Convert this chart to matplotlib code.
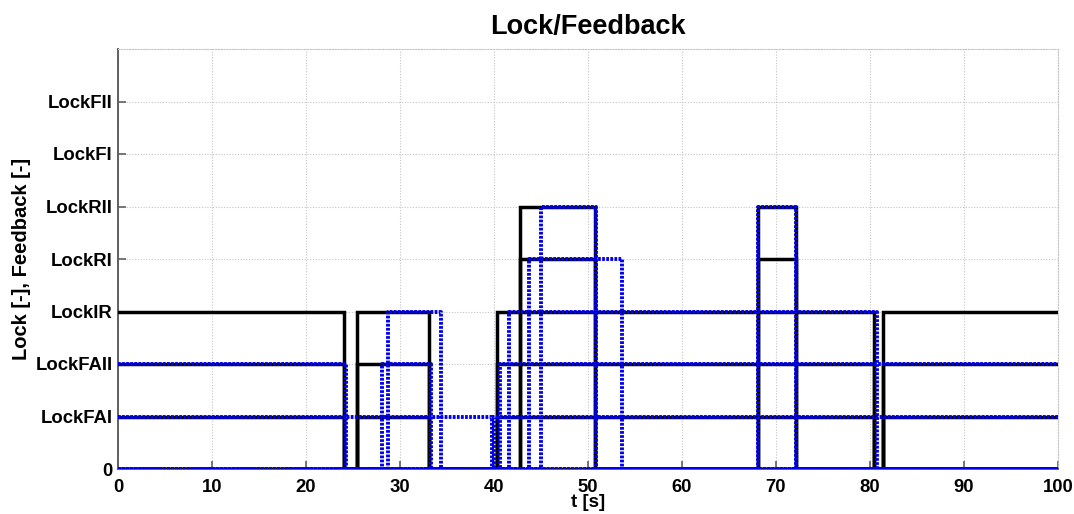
import matplotlib
matplotlib.use("Agg")
import matplotlib.pyplot as plt

plt.rcParams['font.family'] = ['Liberation Sans', 'DejaVu Sans']
plt.rcParams['font.weight'] = 'bold'

# ---- data -------------------------------------------------------------
level_labels = ['0', 'LockFAI', 'LockFAII', 'LockIR', 'LockRI', 'LockRII', 'LockFI', 'LockFII']
x_ticks = [0, 10, 20, 30, 40, 50, 60, 70, 80, 90, 100]

# Lock commands (black, solid) - step times and values (steps-post)
lock_FAI_t = [0, 24.0, 25.4, 33.1, 40.3, 80.4, 81.4, 100]
lock_FAI_v = [1, 0, 1, 0, 1, 0, 1, 1]
lock_FAII_t = [0, 24.0, 25.4, 33.1, 40.3, 80.4, 81.4, 100]
lock_FAII_v = [2, 0, 2, 0, 2, 0, 2, 2]
lock_IR_t = [0, 24.0, 25.4, 33.1, 40.3, 80.4, 81.4, 100]
lock_IR_v = [3, 0, 3, 0, 3, 0, 3, 3]
lock_RI_t = [0, 42.8, 50.7, 68.05, 72.1, 100]
lock_RI_v = [0, 4, 0, 4, 0, 0]
lock_RII_t = [0, 42.8, 50.7, 68.05, 72.1, 100]
lock_RII_v = [0, 5, 0, 5, 0, 0]
lock_FI_t = [0, 100]
lock_FI_v = [0, 0]
lock_FII_t = [0, 100]
lock_FII_v = [0, 0]

# Feedback signals (blue, dotted)
fb_FAI_t = [0, 39.75, 40.05, 100]
fb_FAI_v = [1, 0, 1, 1]
fb_FAII_t = [0, 24.3, 28.05, 33.35, 40.6, 100]
fb_FAII_v = [2, 0, 2, 0, 2, 2]
fb_IR_t = [0, 28.75, 34.4, 41.6, 80.7, 100]
fb_IR_v = [0, 3, 0, 3, 0, 0]
fb_RI_t = [0, 43.7, 53.6, 100]
fb_RI_v = [0, 4, 0, 0]
fb_RII_t = [0, 45.05, 50.9, 68.05, 72.1, 100]
fb_RII_v = [0, 5, 0, 5, 0, 0]
fb_FI_t = [0, 100]
fb_FI_v = [0, 0]
fb_FII_t = [0, 100]
fb_FII_v = [0, 0]

locks = [(lock_FAI_t, lock_FAI_v), (lock_FAII_t, lock_FAII_v), (lock_IR_t, lock_IR_v),
         (lock_RI_t, lock_RI_v), (lock_RII_t, lock_RII_v), (lock_FI_t, lock_FI_v),
         (lock_FII_t, lock_FII_v)]
feedbacks = [(fb_FAI_t, fb_FAI_v), (fb_FAII_t, fb_FAII_v), (fb_IR_t, fb_IR_v),
             (fb_RI_t, fb_RI_v), (fb_RII_t, fb_RII_v), (fb_FI_t, fb_FI_v),
             (fb_FII_t, fb_FII_v)]

# ---- figure -----------------------------------------------------------
fig = plt.figure(figsize=(10.74, 5.14), dpi=100)
ax = fig.add_axes([118 / 1074, 1 - 469 / 514, 940 / 1074, 420 / 514])

for t, v in locks:
    ax.plot(t, v, drawstyle='steps-post', color='black', lw=2.5,
            solid_joinstyle='miter', zorder=3)
for t, v in feedbacks:
    ax.plot(t, v, drawstyle='steps-post', color='#0000ee', lw=2.8,
            linestyle=(0, (0.7, 0.35)), zorder=4)

ax.set_xlim(0, 100)
ax.set_ylim(0, 8)
ax.set_xticks(x_ticks)
ax.set_xticklabels([str(x) for x in x_ticks])
ax.set_yticks(range(len(level_labels)))
ax.set_yticklabels(level_labels)

ax.grid(True, color='#c4c4c4', linestyle=(0, (1, 1.5)), linewidth=0.8, zorder=0)
ax.set_axisbelow(True)

for s in ['top', 'right']:
    ax.spines[s].set_color('#c4c4c4')
    ax.spines[s].set_linestyle((0, (1, 1.5)))
    ax.spines[s].set_linewidth(0.8)
ax.spines['left'].set_color('#606060')
ax.spines['left'].set_linewidth(1.4)
ax.spines['bottom'].set_color('#606060')
ax.spines['bottom'].set_linewidth(1.4)

ax.tick_params(axis='both', direction='in', length=6, width=1.2, color='#606060',
               labelsize=13.3, labelcolor='black', top=False, right=False)
ax.tick_params(axis='y', pad=4)
ax.tick_params(axis='x', pad=7)
for lab in ax.get_xticklabels() + ax.get_yticklabels():
    lab.set_fontweight('bold')

ax.set_title('Lock/Feedback', fontsize=19.5, fontweight='bold', pad=11)
ax.set_xlabel('t [s]', fontsize=13.5, fontweight='bold', labelpad=-1)
ax.set_ylabel('Lock [-], Feedback [-]', fontsize=14.5, fontweight='bold', labelpad=3)

fig.savefig('out.png', dpi=100)
